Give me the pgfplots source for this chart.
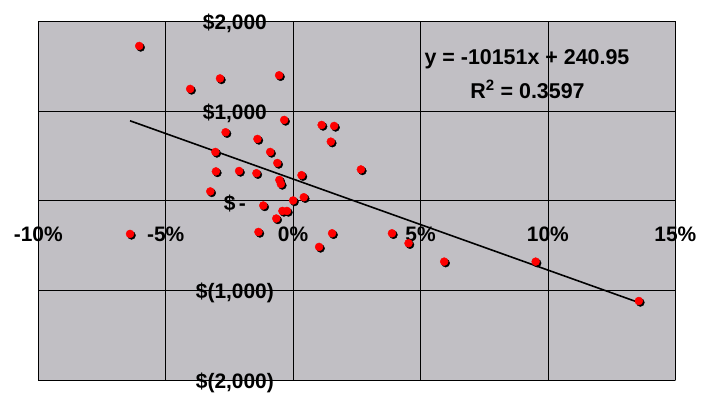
\documentclass[border=0pt]{standalone}
\usepackage{pgfplots}
\usepackage{pgfplotstable}
\pgfplotsset{compat=1.18}
\usepackage{fontspec}
\setmainfont{Liberation Sans}
\definecolor{bg}{RGB}{193,191,196}
\definecolor{bd}{RGB}{128,128,128}
\pgfplotstableread{
x y
-6.04 1725
-4.04 1246
-2.87 1363
-0.55 1398
-0.35 900
-2.65 763
-1.40 688
-3.05 543
-0.90 543
-0.62 420
-3.03 326
-2.12 331
-1.44 306
0.33 284
-0.54 231
-0.48 186
-3.25 103
0.42 38
0.00 2
-1.17 -54
-0.42 -115
-0.24 -115
-0.66 -199
-1.36 -349
-6.40 -371
1.12 844
1.61 833
1.48 658
2.66 348
1.53 -364
1.02 -516
3.88 -364
4.53 -475
5.93 -680
9.52 -680
13.57 -1119
}\datatable
\pgfplotstableread{
x y
-6.40 890.6
13.57 -1136.5
}\trendtable
\begin{document}
\begin{tikzpicture}
\path[use as bounding box] (0,0) rectangle (720bp,410bp);
\begin{axis}[
  at={(38.3bp,30bp)}, anchor=south west,
  scale only axis, width=637bp, height=358.7bp,
  xmin=-10, xmax=15, ymin=-2000, ymax=2000,
  axis lines=middle, axis line style={-, black, line width=0.8bp},
  axis background/.style={fill=bg, draw=bd, line width=0.8bp},
  grid=major, major grid style={black, line width=0.8bp},
  xtick={-10,-5,0,5,10,15},
  xticklabels={-10\%,-5\%,0\%,5\%,10\%,15\%},
  ytick={-2000,-1000,0,1000,2000},
  yticklabels={\$(2{,}000),\$(1{,}000),\$\,-,\$1{,}000,\$2{,}000},
  hide obscured x ticks=false, hide obscured y ticks=false,
  x tick style={draw=none},
  y tick style={black, line width=0.8bp},
  tick align=outside, major tick length=6bp,
  xticklabel style={anchor=center, yshift=-27.5bp, font=\fontsize{21}{25}\selectfont\bfseries},
  yticklabel style={anchor=center, xshift=-52.2bp, yshift=-2.5bp, font=\fontsize{21}{25}\selectfont\bfseries},
  clip=false,
]
\addplot[black, line width=1.6bp, no marks] table {\trendtable};
\addplot[only marks, mark=*, mark size=4bp, black, mark options={xshift=1.5bp, yshift=-1.5bp}] table {\datatable};
\addplot[only marks, mark=*, mark size=4bp, red] table {\datatable};
\node[font=\fontsize{21.5}{25}\selectfont\bfseries] at (axis cs:9.18,1575) {y = -10151x + 240.95};
\node[font=\fontsize{21.5}{25}\selectfont\bfseries] at (axis cs:9.2,1240) {R\textsuperscript{2} = 0.3597};
\end{axis}
\end{tikzpicture}
\end{document}
